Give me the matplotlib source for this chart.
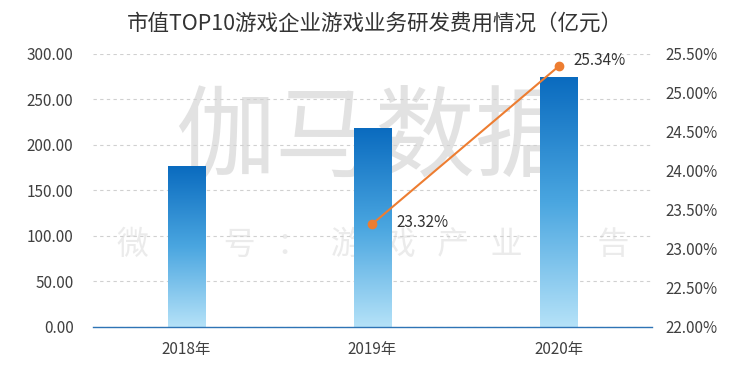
import numpy as np
import matplotlib
matplotlib.use('Agg')
import matplotlib.pyplot as plt
from matplotlib.colors import LinearSegmentedColormap

plt.rcParams['font.family'] = ['Noto Sans CJK SC', 'DejaVu Sans']

years = ['2018年', '2019年', '2020年']
rd_cost = [176, 218, 274]
ratio_years = [1, 2]
ratio = [23.32, 25.34]
left_ticks = [0, 50, 100, 150, 200, 250, 300]
right_ticks = [22.0, 22.5, 23.0, 23.5, 24.0, 24.5, 25.0, 25.5]

fig = plt.figure(figsize=(7.5, 3.74), dpi=100)
ax = fig.add_axes([0.124, 0.126, 0.745, 0.73])
x = np.arange(len(years))

# watermark, behind the bars
ax.text(0.5, 0.625, '伽马数据', fontsize=72, color='#e2e2e2', ha='center', va='center',
        transform=fig.transFigure, zorder=0.5, fontweight='light')
ax.text(0.497, 0.345, '微   信   号   ：   游   戏   产   业   报   告', fontsize=23, color='#ebebeb',
        ha='center', va='center', transform=fig.transFigure, zorder=0.5, fontweight='light')

bars = ax.bar(x, rd_cost, width=0.2, color='none', zorder=2)
cmap = LinearSegmentedColormap.from_list('blu', ['#b5e2f8', '#4aa6e0', '#0a6bbf'])
grad = np.linspace(0, 1, 256).reshape(-1, 1)
for b in bars:
    x0, y0 = b.get_x(), b.get_y()
    ax.imshow(grad, extent=[x0, x0 + b.get_width(), y0, y0 + b.get_height()],
              origin='lower', aspect='auto', cmap=cmap, zorder=2)

ax.set_xlim(-0.5, 2.5)
ax.set_ylim(0, 300)
ax.set_yticks(left_ticks)
ax.set_yticklabels(['%.2f' % v for v in left_ticks])
ax.set_xticks(x)
ax.set_xticklabels(years)
ax.yaxis.grid(True, linestyle=(0, (3, 3)), color='#d0d0d0', linewidth=0.8)
ax.set_axisbelow(True)
for s in ['top', 'left', 'right']:
    ax.spines[s].set_visible(False)
ax.spines['bottom'].set_color('#2e74b5')
ax.spines['bottom'].set_linewidth(1.0)
ax.tick_params(length=0, labelsize=11, colors='#404040', pad=14)
ax.tick_params(axis='x', pad=10)
ax.patch.set_alpha(0)

ax2 = ax.twinx()
ax2.set_ylim(22, 25.5)
ax2.set_yticks(right_ticks)
ax2.set_yticklabels(['%.2f%%' % v for v in right_ticks])
ax2.tick_params(length=0, labelsize=11, colors='#404040', pad=10)
for s in ['top', 'left', 'right', 'bottom']:
    ax2.spines[s].set_visible(False)
ax2.plot(ratio_years, ratio, color='#ed7d31', linewidth=1.5, marker='o', markersize=6, zorder=5)
label_offsets = [(17, 1), (11, 4)]
for xi, v, off in zip(ratio_years, ratio, label_offsets):
    ax2.annotate('%.2f%%' % v, (xi, v), xytext=off, textcoords='offset points',
                 fontsize=11, color='#333333', va='center', ha='left')

fig.suptitle('市值TOP10游戏企业游戏业务研发费用情况（亿元）', fontsize=15.5, color='#333333', y=0.965)

fig.savefig('out.png', dpi=100)
